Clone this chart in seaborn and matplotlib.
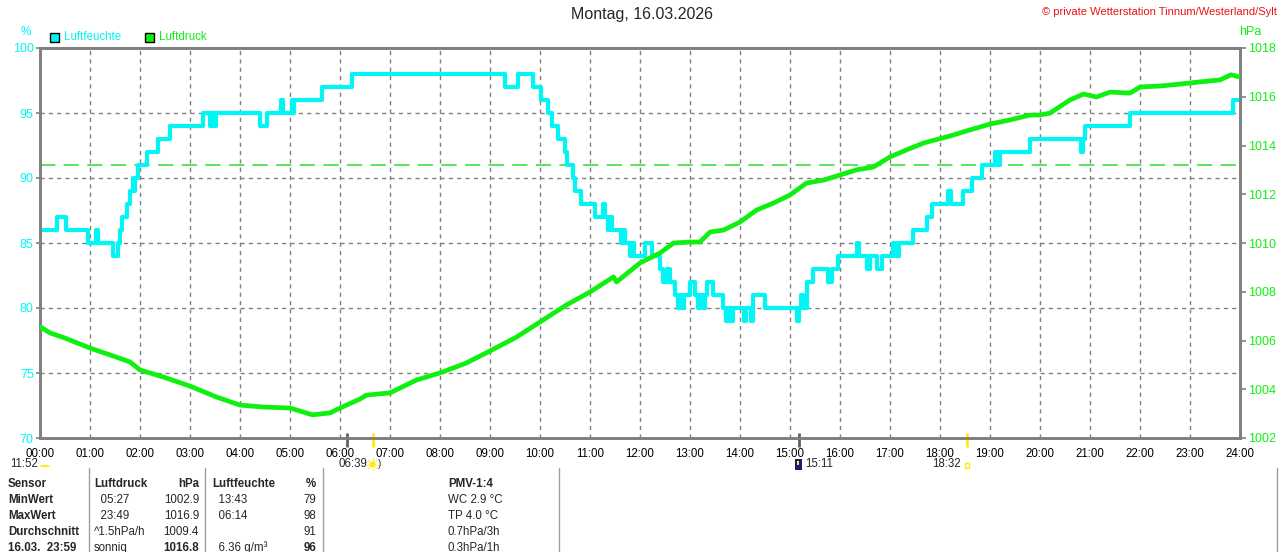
import numpy as np
import pandas as pd
import matplotlib
matplotlib.use("Agg")
import matplotlib.pyplot as plt
from matplotlib.patches import Rectangle, Wedge, Circle
import seaborn as sns

# ---------------- data ----------------
title = "Montag, 16.03.2026"
copyright_txt = "\u00a9 private Wetterstation Tinnum/Westerland/Sylt"

hour_labels = [f"{h:02d}:00" for h in range(25)]
hum_ticks = [70, 75, 80, 85, 90, 95, 100]
pres_ticks = [1002, 1004, 1006, 1008, 1010, 1012, 1014, 1016, 1018]

# humidity (%) - change points, hours
hum_t = [0.00, 0.34, 0.52, 0.96, 1.12, 1.16, 1.46, 1.56, 1.60, 1.64, 1.74, 1.80,
         1.86, 1.88, 1.90, 1.96, 2.14, 2.36, 2.60, 3.26, 3.40, 3.44, 3.48, 3.52,
         4.40, 4.54, 4.82, 4.86, 5.04, 5.06, 5.08, 5.64, 6.24, 9.30, 9.56, 9.86,
         10.02, 10.16, 10.24, 10.36, 10.50, 10.54, 10.66, 10.70, 10.82, 11.10,
         11.26, 11.30, 11.36, 11.40, 11.44, 11.62, 11.66, 11.70, 11.80, 11.84,
         11.88, 12.10, 12.24, 12.40, 12.46, 12.54, 12.60, 12.70, 12.76, 12.80,
         12.84, 12.88, 13.00, 13.10, 13.16, 13.20, 13.26, 13.30, 13.34, 13.46,
         13.66, 13.72, 13.76, 13.82, 13.86, 14.08, 14.12, 14.22, 14.26, 14.50,
         15.14, 15.18, 15.22, 15.26, 15.34, 15.46, 15.76, 15.84, 15.96, 16.34,
         16.38, 16.54, 16.60, 16.74, 16.84, 17.06, 17.12, 17.18, 17.46, 17.74,
         17.84, 18.16, 18.22, 18.46, 18.64, 18.84, 19.10, 19.16, 19.20, 19.80,
         20.82, 20.86, 20.90, 21.80, 23.86, 24.00]
hum_v = [86, 87, 86, 85, 86, 85, 84, 85, 86, 87, 88, 89,
         90, 89, 90, 91, 92, 93, 94, 95, 94, 95, 94, 95,
         94, 95, 96, 95, 96, 95, 96, 97, 98, 97, 98, 97,
         96, 95, 94, 93, 92, 91, 90, 89, 88, 87,
         88, 87, 86, 87, 86, 85, 86, 85, 84, 85,
         84, 85, 84, 83, 82, 83, 82, 81, 80, 81,
         80, 81, 82, 81, 80, 81, 80, 81, 82, 81,
         80, 79, 80, 79, 80, 79, 80, 79, 81, 80,
         79, 80, 81, 80, 82, 83, 82, 83, 84, 85,
         84, 83, 84, 83, 84, 85, 84, 85, 86, 87,
         88, 89, 88, 89, 90, 91, 92, 91, 92, 93,
         92, 93, 94, 95, 96, 96]

# pressure (hPa)
pres_t = [0.00, 0.20, 0.50, 1.00, 1.40, 1.80, 2.00, 2.47, 3.00, 3.53, 4.00, 4.47,
          5.00, 5.45, 5.80, 6.00, 6.40, 6.53, 7.00, 7.53, 8.00, 8.53, 9.00, 9.53,
          10.00, 10.53, 11.00, 11.47, 11.53, 12.00, 12.40, 12.67, 13.00, 13.20,
          13.40, 13.67, 14.00, 14.33, 14.67, 15.00, 15.33, 15.67, 16.00, 16.33,
          16.67, 17.00, 17.33, 17.67, 18.20, 18.60, 19.00, 19.40, 19.80, 20.00,
          20.20, 20.60, 20.87, 21.13, 21.40, 21.80, 22.00, 22.40, 22.80, 23.20,
          23.60, 23.82, 24.00]
pres_v = [1006.57, 1006.31, 1006.10, 1005.69, 1005.41, 1005.12, 1004.79, 1004.50,
          1004.13, 1003.68, 1003.35, 1003.27, 1003.23, 1002.95, 1003.03, 1003.23,
          1003.60, 1003.76, 1003.85, 1004.38, 1004.67, 1005.08, 1005.57, 1006.14,
          1006.76, 1007.46, 1007.99, 1008.61, 1008.40, 1009.18, 1009.59, 1010.00,
          1010.04, 1010.04, 1010.45, 1010.53, 1010.86, 1011.35, 1011.64, 1011.97,
          1012.46, 1012.58, 1012.79, 1013.00, 1013.12, 1013.53, 1013.82, 1014.10,
          1014.39, 1014.64, 1014.88, 1015.05, 1015.25, 1015.25, 1015.33, 1015.87,
          1016.11, 1015.99, 1016.19, 1016.15, 1016.40, 1016.44, 1016.52, 1016.61,
          1016.69, 1016.90, 1016.81]

hum_avg = 91

# astro events (hours) and labels
event_t = [6.14, 6.65, 15.18, 18.53]
event_kind = ["moon", "sun", "moon", "sun"]
astro_labels = ["11:52", "06:39", "15:11", "18:32"]

# table
tab_col1 = ["Sensor", "MinWert", "MaxWert", "Durchschnitt", "16.03.  23:59"]
tab_col2 = ["Luftdruck", "  05:27", "  23:49", "^1.5hPa/h", "sonnig"]
tab_col2r = ["hPa", "1002.9", "1016.9", "1009.4", "1016.8"]
tab_col3 = ["Luftfeuchte", "  13:43", "  06:14", "", "  6.36 g/m\u00b3"]
tab_col3r = ["%", "79", "98", "91", "96"]
tab_col4 = ["PMV-1:4", "WC 2.9 \u00b0C", "TP 4.0 \u00b0C", "0.7hPa/3h", "0.3hPa/1h"]

# ---------------- style ----------------
sns.set_style("white")
plt.rcParams["font.family"] = ["Liberation Sans", "DejaVu Sans"]
plt.rcParams["lines.scale_dashes"] = False

W, H = 1280, 552
CYAN = "#00f5f5"
GREEN = "#10f010"
GRAY = "#808080"
FS = 8.3

def fx(x):
    return x / W

def fy(y):
    return 1 - y / H

fig = plt.figure(figsize=(W / 100, H / 100), dpi=100)
ax = fig.add_axes([fx(40), fy(438), 1200 / W, 390 / H])
ax2 = ax.twinx()

hum_df = pd.DataFrame({"t": hum_t, "v": hum_v})
pres_df = pd.DataFrame({"t": pres_t, "v": pres_v})

# grid
for h in range(1, 24):
    ax.axvline(h, color=GRAY, lw=1.0, dashes=(3, 3), zorder=1)
for v in hum_ticks[1:-1]:
    ax.axhline(v, color=GRAY, lw=1.0, dashes=(3, 3), zorder=1)
ax.axhline(hum_avg, color="#30dd30", lw=1.1, dashes=(11, 6), zorder=1.5)

sns.lineplot(data=hum_df, x="t", y="v", ax=ax, color=CYAN, linewidth=3.0,
             drawstyle="steps-post", estimator=None, sort=False, legend=False, zorder=3)
sns.lineplot(data=pres_df, x="t", y="v", ax=ax2, color=GREEN, linewidth=3.4,
             estimator=None, sort=False, legend=False, zorder=3)

ax.set_xlim(0, 24)
ax.set_ylim(70, 100)
ax2.set_ylim(1002, 1018)
for a in (ax, ax2):
    a.set_xlabel("")
    a.set_ylabel("")
    a.grid(False)
    for s in a.spines.values():
        s.set_color(GRAY)
        s.set_linewidth(2.0)

ax.set_xticks(range(25))
ax.set_xticklabels(hour_labels, fontsize=FS, color="black")
ax.tick_params(axis="x", length=0, pad=7)
ax.set_yticks(hum_ticks)
ax.set_yticklabels([str(v) for v in hum_ticks], fontsize=9, color=CYAN)
ax.tick_params(axis="y", length=3, width=1.2, color=GRAY, pad=1.5, direction="out")
ax2.set_yticks(pres_ticks)
ax2.set_yticklabels([str(v) for v in pres_ticks], fontsize=9, color=GREEN)
ax2.tick_params(axis="y", length=4, width=1.2, color=GRAY, pad=1.5, direction="out")

# event ticks below the axis
for t, k in zip(event_t, event_kind):
    c = "#606060" if k == "moon" else "#ffee00"
    ax.plot([t, t], [70.4, 69.3], color=c, lw=2.0, clip_on=False, zorder=5,
            solid_capstyle="butt")

# titles / headers
fig.text(fx(642), fy(15), title, ha="center", va="center", fontsize=11.5)
fig.text(fx(1277), fy(12), copyright_txt, ha="right", va="center", fontsize=8,
         color="#ee1111")
fig.text(fx(26), fy(32), "%", ha="center", va="center", fontsize=8.5, color=CYAN)
fig.text(fx(1250), fy(32), "hPa", ha="center", va="center", fontsize=9, color=GREEN)

# legend
for x0, col, lab in [(50, CYAN, "Luftfeuchte"), (145, GREEN, "Luftdruck")]:
    fig.add_artist(Rectangle((fx(x0), fy(42)), 9 / W, 9 / H, transform=fig.transFigure,
                             facecolor=col, edgecolor="black", lw=1.0))
    fig.text(fx(x0 + 14), fy(37.5), lab, ha="left", va="center", fontsize=FS, color=col)

# astro labels
fig.text(fx(38), fy(464), astro_labels[0], ha="right", va="center", fontsize=FS)
fig.add_artist(Wedge((fx(45), fy(467)), 5 / W, 0, 180, transform=fig.transFigure,
                     facecolor="#ffee00", edgecolor="none"))
fig.text(fx(367), fy(464), astro_labels[1], ha="right", va="center", fontsize=FS)
sun_ax = fig.add_axes([fx(366), fy(471), 13 / W, 13 / H])
sun_ax.set_axis_off()
sun_ax.set_xlim(-1, 1)
sun_ax.set_ylim(-1, 1)
sun_ax.add_patch(Circle((0, 0), 0.5, facecolor="#ffee00", edgecolor="none"))
for ang in np.linspace(0, 2 * np.pi, 8, endpoint=False):
    sun_ax.plot([0.7 * np.cos(ang), 0.95 * np.cos(ang)],
                [0.7 * np.sin(ang), 0.95 * np.sin(ang)], color="#ffe040", lw=0.8)
fig.text(fx(378), fy(464), ")", ha="left", va="center", fontsize=7)
fig.add_artist(Rectangle((fx(795), fy(470)), 7 / W, 11 / H, transform=fig.transFigure,
                         facecolor="#1a1a80", edgecolor="none"))
fig.add_artist(Rectangle((fx(797), fy(465)), 2 / W, 4 / H, transform=fig.transFigure,
                         facecolor="#ffee00", edgecolor="none"))
fig.text(fx(805), fy(464), astro_labels[2], ha="left", va="center", fontsize=FS)
fig.text(fx(961), fy(464), astro_labels[3], ha="right", va="center", fontsize=FS)
fig.add_artist(Rectangle((fx(964.5), fy(468)), 4.5 / W, 5 / H, transform=fig.transFigure,
                         facecolor="none", edgecolor="#ffee00", lw=1.0))

# table
for xl in [89, 205, 323, 559, 1277]:
    fig.add_artist(plt.Line2D([fx(xl), fx(xl)], [fy(468), 0], transform=fig.transFigure,
                              color="#a0a0a0", lw=1.0))
row_y = [484, 500, 516, 532, 548]
for i, yy in enumerate(row_y):
    bold_row = i == 0
    fig.text(fx(8), fy(yy), tab_col1[i], ha="left", va="center", fontsize=FS,
             fontweight="bold")
    fig.text(fx(94), fy(yy), tab_col2[i], ha="left", va="center", fontsize=FS,
             fontweight="bold" if bold_row else "normal")
    fig.text(fx(199), fy(yy), tab_col2r[i], ha="right", va="center", fontsize=FS,
             fontweight="bold" if (bold_row or i == 4) else "normal")
    fig.text(fx(212), fy(yy), tab_col3[i], ha="left", va="center", fontsize=FS,
             fontweight="bold" if bold_row else "normal")
    fig.text(fx(316), fy(yy), tab_col3r[i], ha="right", va="center", fontsize=FS,
             fontweight="bold" if (bold_row or i == 4) else "normal")
    fig.text(fx(448), fy(yy), tab_col4[i], ha="left", va="center", fontsize=FS,
             fontweight="bold" if bold_row else "normal")

fig.savefig("out.png", dpi=100)
